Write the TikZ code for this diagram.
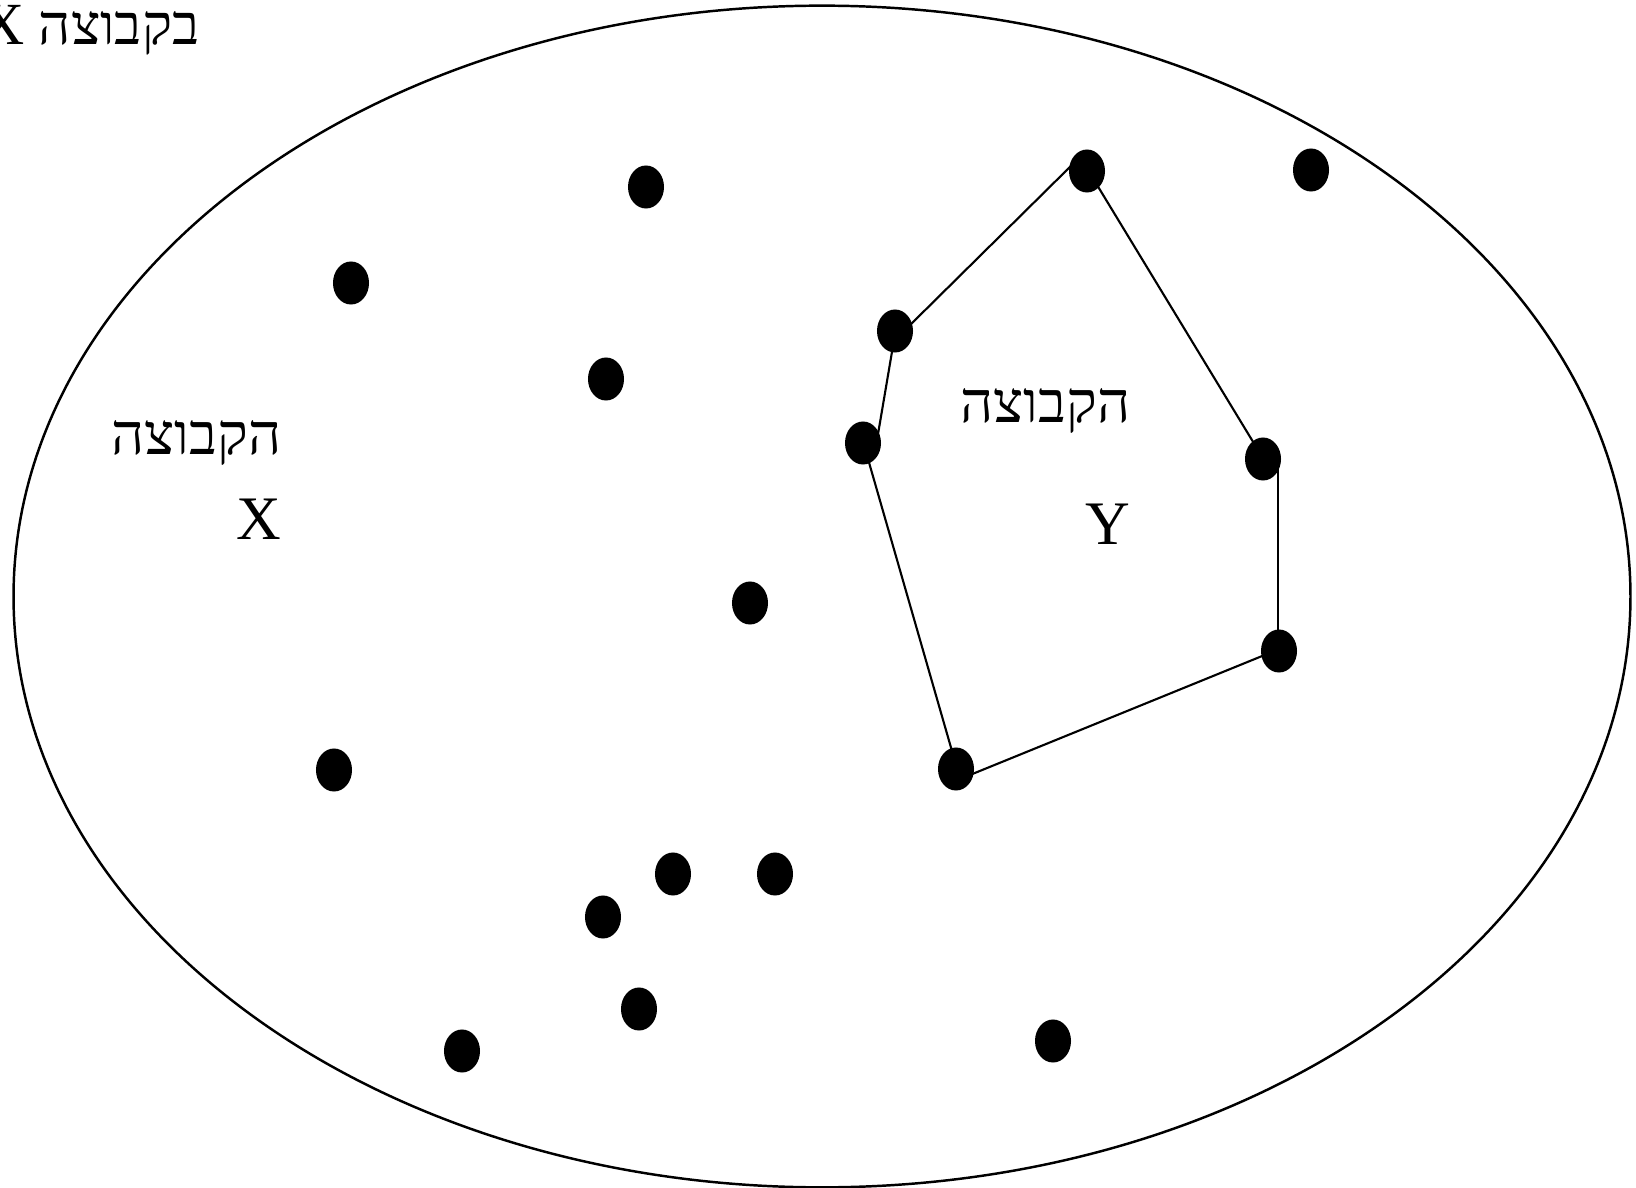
\documentclass[tikz,border=0pt]{standalone}
\usepackage{fontspec}
\setmainfont{Liberation Serif}
\newfontfamily\hebfont[Script=Hebrew]{Liberation Serif}
\TeXXeTstate=1
\usetikzlibrary{shapes.geometric}
\tikzset{
  dotnode/.style={ellipse,fill=black,draw=none,minimum width=0.36cm,minimum height=0.43cm,inner sep=0pt},
  edgeline/.style={draw=black,line width=0.6pt},
  lbl/.style={inner sep=0pt,font=\fontsize{17.6}{21}\selectfont},
  heb/.style={inner sep=0pt,font=\fontsize{16.4}{20}\selectfont\hebfont},
}
\begin{document}
\begin{tikzpicture}[x=0.01cm,y=-0.01cm]
\useasboundingbox (0,0) rectangle (1636,1188);
% outer set
\draw[line width=0.7pt] (822,596.5) ellipse [x radius=8.08cm, y radius=5.905cm];
% polygon edge endpoints (hidden under the dots)
\coordinate (a1) at (1078,159); \coordinate (a2) at (905,330);
\coordinate (b1) at (894,340);  \coordinate (b2) at (877,440);
\coordinate (c1) at (866,452);  \coordinate (c2) at (956,765);
\coordinate (d1) at (965,777);  \coordinate (d2) at (1272,652);
\coordinate (e1) at (1278,645); \coordinate (e2) at (1278,468);
\coordinate (f1) at (1258,450); \coordinate (f2) at (1094,180);
\draw[edgeline] (a1) -- (a2);
\draw[edgeline] (b1) -- (b2);
\draw[edgeline] (c1) -- (c2);
\draw[edgeline] (d1) -- (d2);
\draw[edgeline] (e1) -- (e2);
\draw[edgeline] (f1) -- (f2);
% dots
\node[dotnode] (p1) at (646,187) {};
\node[dotnode] (p2) at (351,283) {};
\node[dotnode] (p3) at (606,379) {};
\node[dotnode] (p4) at (750,603) {};
\node[dotnode] (p5) at (334,770) {};
\node[dotnode] (p6) at (673,874) {};
\node[dotnode] (p7) at (775,874) {};
\node[dotnode] (p8) at (603,917) {};
\node[dotnode] (p9) at (639,1009) {};
\node[dotnode] (p10) at (462,1051) {};
\node[dotnode] (p11) at (1053,1041) {};
\node[dotnode] (p12) at (1311,170) {};
\node[dotnode] (q1) at (1087,171) {};
\node[dotnode] (q2) at (895,331) {};
\node[dotnode] (q3) at (863,443) {};
\node[dotnode] (q4) at (1263,459) {};
\node[dotnode] (q5) at (1279,651) {};
\node[dotnode] (q6) at (956,769) {};
% labels
\node[heb,anchor=east,font=\fontsize{16}{19}\selectfont\hebfont] (top) at (200,30) {\beginR בקבוצה {\fontsize{17}{19}\selectfont\rmfamily X}\endR};
\node[heb,anchor=east] (xh) at (282,443) {\beginR הקבוצה\endR};
\node[lbl,anchor=east] (xl) at (282,519) {X};
\node[heb,anchor=east] (yh) at (1131,411) {\beginR הקבוצה\endR};
\node[lbl,anchor=east] (yl) at (1131,524) {Y};
\end{tikzpicture}
\end{document}
